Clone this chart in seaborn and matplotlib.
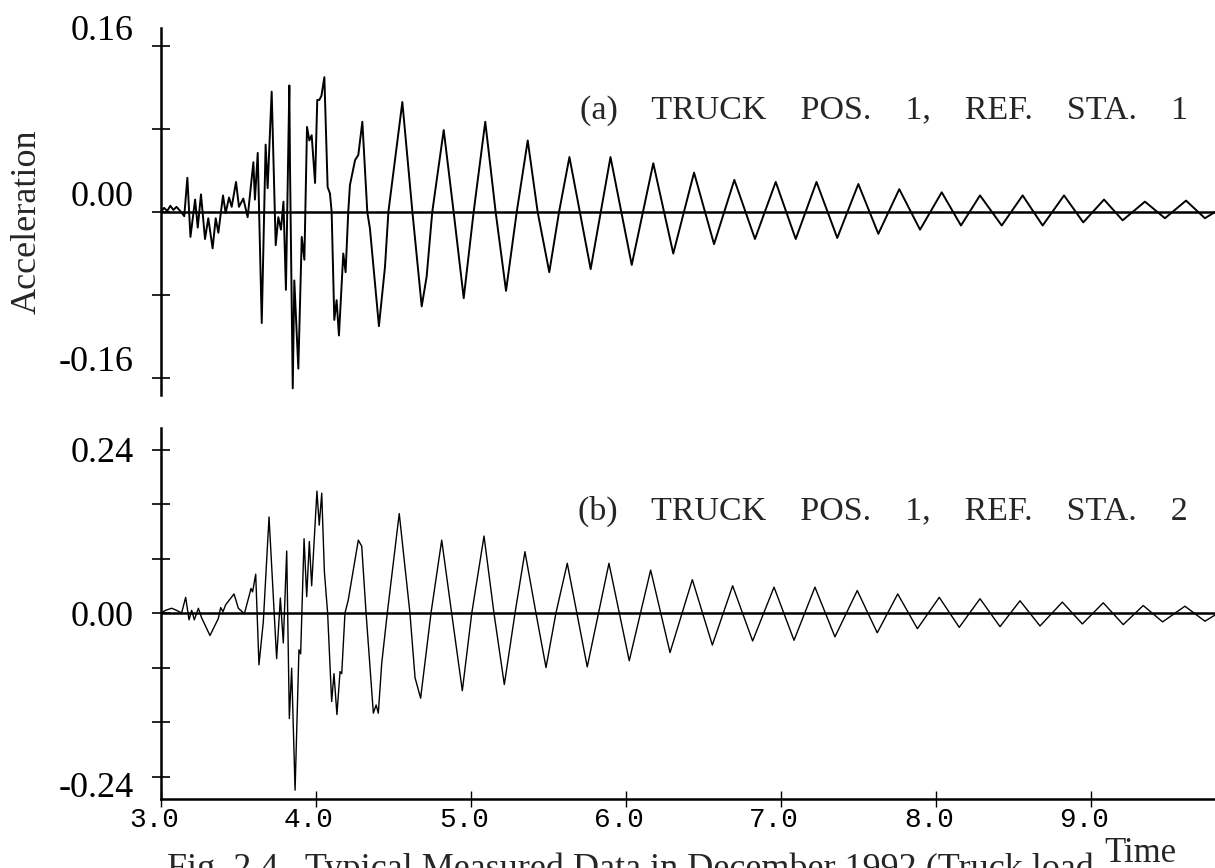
import matplotlib
matplotlib.use("Agg")
import matplotlib.pyplot as plt
import seaborn as sns
from matplotlib.transforms import ScaledTranslation

# ---------------- data ----------------
time_a = [3.00, 3.02, 3.04, 3.06, 3.08, 3.10, 3.13, 3.15, 3.17, 3.19, 3.22, 3.237,
          3.258, 3.284, 3.305, 3.333, 3.353, 3.37, 3.40, 3.417, 3.439, 3.456, 3.484,
          3.503, 3.531, 3.559, 3.596, 3.606, 3.624, 3.65, 3.675, 3.688, 3.714, 3.74,
          3.757, 3.774, 3.79, 3.806, 3.828, 3.832, 3.85, 3.86, 3.886, 3.908, 3.925,
          3.942, 3.957, 3.972, 3.994, 4.008, 4.021, 4.035, 4.054, 4.075, 4.09, 4.101,
          4.118, 4.133, 4.148, 4.176, 4.191, 4.208, 4.219, 4.252, 4.273, 4.299, 4.331,
          4.348, 4.406, 4.445, 4.467, 4.489, 4.557, 4.622, 4.682, 4.714, 4.75, 4.824,
          4.888, 4.953, 5.017, 5.092, 5.159, 5.226, 5.295, 5.366, 5.43, 5.505, 5.568,
          5.635, 5.772, 5.90, 6.037, 6.176, 6.305, 6.439, 6.568, 6.699, 6.832, 6.966,
          7.095, 7.229, 7.363, 7.499, 7.628, 7.763, 7.897, 8.037, 8.161, 8.284, 8.424,
          8.559, 8.688, 8.826, 8.95, 9.084, 9.204, 9.348, 9.477, 9.613, 9.735, 9.80]
accel_a = [0.000, 0.004, 0.001, 0.006, 0.002, 0.005, 0.000, -0.004, 0.033, -0.024, 0.012, -0.015,
           0.017, -0.026, -0.006, -0.035, -0.006, -0.020, 0.016, -0.001, 0.014, 0.005, 0.029,
           0.005, 0.013, -0.005, 0.048, 0.012, 0.057, -0.107, 0.065, 0.023, 0.116, -0.032,
           -0.005, -0.017, 0.010, -0.075, 0.122, 0.047, -0.170, -0.066, -0.151, -0.024, -0.046,
           0.082, 0.069, 0.074, 0.028, 0.108, 0.108, 0.112, 0.130, 0.024, 0.018, 0.000,
           -0.104, -0.085, -0.119, -0.040, -0.058, 0.000, 0.026, 0.050, 0.055, 0.087, 0.000,
           -0.016, -0.110, -0.053, 0.000, 0.026, 0.106, 0.000, -0.091, -0.062, 0.000, 0.079,
           0.000, -0.083, 0.000, 0.087, 0.000, -0.076, 0.000, 0.069, 0.000, -0.058, 0.000,
           0.053, -0.055, 0.053, -0.051, 0.047, -0.040, 0.038, -0.031, 0.031, -0.026, 0.029,
           -0.026, 0.029, -0.025, 0.027, -0.021, 0.022, -0.017, 0.019, -0.013, 0.016, -0.013,
           0.016, -0.013, 0.016, -0.010, 0.012, -0.008, 0.010, -0.006, 0.011, -0.006, 0.000]

time_b = [3.00, 3.03, 3.069, 3.10, 3.133, 3.159, 3.181, 3.198, 3.215, 3.241, 3.262, 3.316,
          3.37, 3.385, 3.40, 3.417, 3.471, 3.499, 3.538, 3.581, 3.591, 3.611, 3.632, 3.66,
          3.697, 3.746, 3.77, 3.789, 3.811, 3.828, 3.843, 3.865, 3.89, 3.901, 3.923, 3.94,
          3.957, 3.972, 4.006, 4.021, 4.037, 4.054, 4.075, 4.101, 4.116, 4.135, 4.155,
          4.166, 4.187, 4.208, 4.273, 4.295, 4.323, 4.37, 4.388, 4.402, 4.424, 4.46,
          4.537, 4.606, 4.639, 4.675, 4.742, 4.811, 4.875, 4.944, 5.005, 5.084, 5.148,
          5.215, 5.284, 5.348, 5.419, 5.484, 5.548, 5.621, 5.75, 5.89, 6.021, 6.159,
          6.284, 6.428, 6.557, 6.688, 6.817, 6.955, 7.084, 7.219, 7.348, 7.492, 7.621,
          7.753, 7.88, 8.021, 8.15, 8.284, 8.413, 8.542, 8.671, 8.815, 8.944, 9.079,
          9.208, 9.337, 9.462, 9.606, 9.735, 9.80]
accel_b = [0.000, 0.004, 0.007, 0.004, 0.000, 0.023, -0.010, 0.004, -0.010, 0.007, -0.007, -0.033,
           -0.008, 0.008, 0.002, 0.012, 0.028, 0.007, -0.001, 0.036, 0.031, 0.057, -0.076, -0.013,
           0.141, -0.067, 0.022, -0.044, 0.091, -0.155, -0.081, -0.260, -0.054, -0.060, 0.109, 0.024,
           0.105, 0.040, 0.179, 0.129, 0.176, 0.061, 0.000, -0.130, -0.089, -0.149, -0.086,
           -0.089, 0.000, 0.019, 0.107, 0.098, 0.000, -0.147, -0.135, -0.147, -0.074, 0.000,
           0.146, 0.000, -0.095, -0.125, 0.000, 0.107, 0.000, -0.114, 0.000, 0.113, 0.000,
           -0.105, 0.000, 0.090, 0.000, -0.080, 0.000, 0.073, -0.079, 0.073, -0.070, 0.063,
           -0.058, 0.049, -0.047, 0.040, -0.041, 0.038, -0.040, 0.038, -0.035, 0.033, -0.029,
           0.028, -0.023, 0.023, -0.021, 0.021, -0.020, 0.018, -0.019, 0.016, -0.016, 0.015,
           -0.017, 0.011, -0.013, 0.010, -0.012, -0.003]

yticks_a = [-0.16, -0.08, 0.0, 0.08, 0.16]
ylabels_a = ["-0.16", "", "0.00", "", "0.16"]
yticks_b = [-0.24, -0.16, -0.08, 0.0, 0.08, 0.16, 0.24]
ylabels_b = ["-0.24", "", "", "0.00", "", "", "0.24"]
xticks = [3, 4, 5, 6, 7, 8, 9]
xlabels = ["3.0", "4.0", "5.0", "6.0", "7.0", "8.0", "9.0"]
title_a = "(a)    TRUCK    POS.    1,    REF.    STA.    1"
title_b = "(b)    TRUCK    POS.    1,    REF.    STA.    2"
caption = "Fig. 2.4   Typical Measured Data in December 1992 (Truck load"

assert len(time_a) == len(accel_a)
assert len(time_b) == len(accel_b)

# ---------------- figure ----------------
sns.set_style("white")
plt.rcParams["font.family"] = ["Liberation Serif", "DejaVu Serif"]

W, H = 1215, 868
fig = plt.figure(figsize=(W / 100, H / 100), dpi=100)
ax_a = fig.add_axes([161 / W, 1 - 395 / H, 1 - 161 / W, (395 - 28) / H])
ax_b = fig.add_axes([161 / W, 1 - 799 / H, 1 - 161 / W, (799 - 428) / H])

sns.lineplot(x=time_a, y=accel_a, ax=ax_a, color="black", lw=1.4,
             estimator=None, sort=False)
sns.lineplot(x=time_b, y=accel_b, ax=ax_b, color="black", lw=1.0,
             estimator=None, sort=False)

for ax in (ax_a, ax_b):
    ax.axhline(0, color="black", lw=1.8, zorder=1)
    ax.set_xlim(3.0, 9.80)
    for s in ax.spines.values():
        s.set_visible(False)
    ax.spines["left"].set_visible(True)
    ax.spines["left"].set_linewidth(1.8)
    ax.spines["left"].set_color("black")
    ax.tick_params(axis="y", direction="inout", length=13, width=1.2,
                   labelsize=26, pad=13, left=True, colors="black")

ax_a.set_ylim(-0.1764, 0.1774)
ax_b.set_ylim(-0.273, 0.2716)

ax_a.set_yticks(yticks_a)
ax_a.set_yticklabels(ylabels_a)
ax_b.set_yticks(yticks_b)
ax_b.set_yticklabels(ylabels_b)

ax_a.set_xticks([])
ax_a.set_xlabel("")

ax_b.spines["bottom"].set_visible(True)
ax_b.spines["bottom"].set_linewidth(1.8)
ax_b.spines["bottom"].set_color("black")
ax_b.set_xticks(xticks)
ax_b.set_xticklabels(xlabels, fontfamily="Liberation Mono", fontsize=20)
ax_b.tick_params(axis="x", direction="inout", length=12, width=1.0,
                 pad=0, bottom=True, colors="black")
ax_b.set_xlabel("")

# label offsets as in the reference
for lbl in ax_a.get_yticklabels():
    lbl.set_transform(lbl.get_transform() + ScaledTranslation(0, 19 / 100, fig.dpi_scale_trans))
for lbl, v in zip(ax_b.get_yticklabels(), yticks_b):
    if v < -0.2:
        lbl.set_transform(lbl.get_transform() + ScaledTranslation(0, -8 / 100, fig.dpi_scale_trans))
for lbl in ax_b.get_xticklabels():
    lbl.set_transform(lbl.get_transform() + ScaledTranslation(-7 / 100, 0, fig.dpi_scale_trans))

ax_a.set_ylabel("Acceleration", fontsize=26)
ax_a.yaxis.set_label_coords(-0.111, 0.471)
ax_b.set_ylabel("")

fig.text(1188 / W, 1 - 119 / H, title_a, ha="right", va="baseline", fontsize=24.5)
fig.text(1188 / W, 1 - 520 / H, title_b, ha="right", va="baseline", fontsize=24.5)
fig.text(1140 / W, 1 - 862 / H, "Time", ha="center", va="baseline", fontsize=25)
fig.text(167 / W, 1 - 852 / H, caption, ha="left", va="top", fontsize=26)

fig.savefig("out.png", dpi=100)
